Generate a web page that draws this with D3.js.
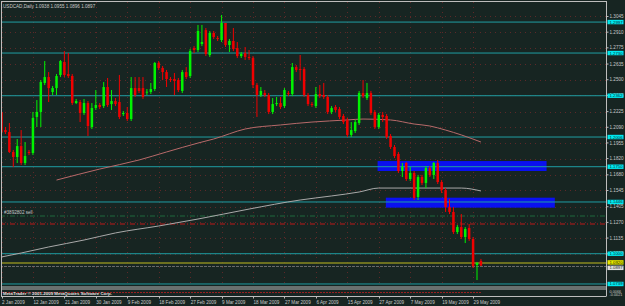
<!DOCTYPE html>
<html>
<head>
<meta charset="utf-8">
<script src="https://cdn.jsdelivr.net/npm/d3@7"></script>
<style>
  html, body { margin: 0; padding: 0; background: #172522; }
  svg { display: block; font-family: "Liberation Sans", Arial, sans-serif; }
</style>
</head>
<body>
<div id="chart"></div>
<script>
// USDCAD daily candles, one entry per bar
const openP = [
  1.2222, 1.2066, 1.2049, 1.1877, 1.1834, 1.1928, 1.1782, 1.1877, 1.1868, 1.2179,
  1.2222, 1.2472, 1.2523, 1.2394, 1.2428, 1.2541, 1.2653, 1.2549, 1.2532, 1.2299,
  1.2308, 1.2213, 1.2299, 1.2092, 1.2256, 1.2282, 1.2273, 1.2437, 1.2290, 1.2316,
  1.2308, 1.2204, 1.2213, 1.2161, 1.2428, 1.2428, 1.2428, 1.2394, 1.2394, 1.2420,
  1.2644, 1.2601, 1.2566, 1.2506, 1.2506, 1.2497, 1.2403, 1.2566, 1.2532, 1.2773,
  1.2756, 1.2808, 1.2928, 1.2713, 1.2903, 1.2859, 1.2842, 1.2989, 1.2799, 1.2834,
  1.2773, 1.2704, 1.2730, 1.2696, 1.2687, 1.2454, 1.2368, 1.2385, 1.2368, 1.2222,
  1.2290, 1.2299, 1.2273, 1.2385, 1.2377, 1.2609, 1.2592, 1.2592, 1.2368, 1.2290,
  1.2273, 1.2377, 1.2368, 1.2351, 1.2222, 1.2265, 1.2247, 1.2187, 1.2153, 1.2024,
  1.2058, 1.2127, 1.2385, 1.2342, 1.2385, 1.2222, 1.2092, 1.2196, 1.2187, 1.2015,
  1.1920, 1.1860, 1.1713, 1.1782, 1.1644, 1.1696, 1.1489, 1.1661, 1.1610, 1.1739,
  1.1679, 1.1782, 1.1618, 1.1549, 1.1403, 1.1360, 1.1187, 1.1230, 1.1144, 1.1222,
  1.1127, 1.0903, 1.0938
];
const highP = [
  1.2256, 1.2092, 1.2127, 1.1894, 1.1989, 1.2066, 1.1963, 1.1894, 1.2222, 1.2325,
  1.2497, 1.2661, 1.2566, 1.2446, 1.2549, 1.2670, 1.2747, 1.2730, 1.2549, 1.2334,
  1.2325, 1.2334, 1.2316, 1.2299, 1.2411, 1.2299, 1.2480, 1.2515, 1.2411, 1.2342,
  1.2541, 1.2230, 1.2265, 1.2523, 1.2523, 1.2523, 1.2523, 1.2420, 1.2472, 1.2653,
  1.2661, 1.2618, 1.2584, 1.2523, 1.2558, 1.2515, 1.2584, 1.2609, 1.2765, 1.2790,
  1.2972, 1.2972, 1.2946, 1.2920, 1.2920, 1.2877, 1.3058, 1.2989, 1.2851, 1.2946,
  1.2825, 1.2739, 1.2782, 1.2756, 1.2704, 1.2472, 1.2437, 1.2411, 1.2385, 1.2342,
  1.2351, 1.2351, 1.2428, 1.2403, 1.2644, 1.2627, 1.2713, 1.2609, 1.2385, 1.2308,
  1.2437, 1.2454, 1.2472, 1.2368, 1.2273, 1.2282, 1.2265, 1.2204, 1.2170, 1.2135,
  1.2153, 1.2403, 1.2497, 1.2472, 1.2403, 1.2239, 1.2213, 1.2222, 1.2204, 1.2032,
  1.1937, 1.1877, 1.1782, 1.1791, 1.1747, 1.1713, 1.1679, 1.1679, 1.1756, 1.1756,
  1.1791, 1.1808, 1.1635, 1.1566, 1.1472, 1.1403, 1.1247, 1.1342, 1.1230, 1.1256,
  1.1144, 1.0929, 1.0955
];
const lowP = [
  1.2041, 1.2032, 1.1868, 1.1747, 1.1782, 1.1765, 1.1765, 1.1851, 1.1851, 1.2092,
  1.2092, 1.2454, 1.2308, 1.2368, 1.2368, 1.2523, 1.2523, 1.2515, 1.2282, 1.2290,
  1.2135, 1.2196, 1.2015, 1.2075, 1.2239, 1.2247, 1.2256, 1.2265, 1.2239, 1.2273,
  1.2161, 1.2187, 1.2144, 1.2144, 1.2351, 1.2385, 1.2334, 1.2368, 1.2377, 1.2403,
  1.2584, 1.2497, 1.2437, 1.2480, 1.2368, 1.2394, 1.2385, 1.2506, 1.2515, 1.2730,
  1.2739, 1.2790, 1.2704, 1.2696, 1.2851, 1.2834, 1.2825, 1.2782, 1.2739, 1.2747,
  1.2687, 1.2687, 1.2670, 1.2670, 1.2428, 1.2179, 1.2351, 1.2351, 1.2204, 1.2204,
  1.2273, 1.2247, 1.2256, 1.2359, 1.2359, 1.2566, 1.2497, 1.2351, 1.2273, 1.2265,
  1.2256, 1.2342, 1.2334, 1.2204, 1.2204, 1.2222, 1.2161, 1.2118, 1.2006, 1.2006,
  1.2041, 1.2110, 1.2342, 1.2325, 1.2196, 1.2075, 1.2075, 1.2135, 1.1989, 1.1903,
  1.1825, 1.1696, 1.1661, 1.1627, 1.1627, 1.1463, 1.1463, 1.1592, 1.1566, 1.1661,
  1.1644, 1.1601, 1.1523, 1.1360, 1.1342, 1.1170, 1.1170, 1.1127, 1.1092, 1.1110,
  1.0877, 1.0773, 1.0896
];
const closeP = [
  1.2049, 1.2049, 1.1877, 1.1834, 1.1928, 1.1782, 1.1842, 1.1868, 1.2170, 1.2222,
  1.2480, 1.2523, 1.2428, 1.2428, 1.2532, 1.2661, 1.2541, 1.2532, 1.2299, 1.2316,
  1.2213, 1.2299, 1.2101, 1.2256, 1.2282, 1.2265, 1.2437, 1.2282, 1.2316, 1.2290,
  1.2179, 1.2213, 1.2161, 1.2428, 1.2368, 1.2403, 1.2351, 1.2396, 1.2420, 1.2644,
  1.2601, 1.2566, 1.2506, 1.2497, 1.2489, 1.2411, 1.2566, 1.2523, 1.2747, 1.2756,
  1.2920, 1.2825, 1.2722, 1.2903, 1.2868, 1.2851, 1.2989, 1.2799, 1.2834, 1.2765,
  1.2704, 1.2722, 1.2696, 1.2687, 1.2454, 1.2368, 1.2403, 1.2368, 1.2222, 1.2290,
  1.2299, 1.2265, 1.2411, 1.2377, 1.2609, 1.2584, 1.2584, 1.2368, 1.2290, 1.2282,
  1.2377, 1.2359, 1.2351, 1.2222, 1.2256, 1.2239, 1.2179, 1.2135, 1.2024, 1.2066,
  1.2135, 1.2385, 1.2359, 1.2385, 1.2213, 1.2092, 1.2196, 1.2179, 1.2006, 1.1920,
  1.1842, 1.1713, 1.1747, 1.1644, 1.1696, 1.1480, 1.1661, 1.1610, 1.1739, 1.1679,
  1.1782, 1.1618, 1.1549, 1.1403, 1.1360, 1.1187, 1.1230, 1.1144, 1.1213, 1.1127,
  1.0894, 1.0920, 1.0897
];

// date labels every 8 bars
const dateLabels = ["2 Jan 2009", "12 Jan 2009", "21 Jan 2009", "30 Jan 2009", "9 Feb 2009",
  "18 Feb 2009", "27 Feb 2009", "9 Mar 2009", "18 Mar 2009", "27 Mar 2009", "6 Apr 2009",
  "15 Apr 2009", "27 Apr 2009", "7 May 2009", "19 May 2009", "29 May 2009"];
const labelStep = 8;

// right price scale
const priceTicks = [1.3045, 1.2910, 1.2775, 1.2635, 1.2500, 1.2365, 1.2225, 1.2090,
  1.1955, 1.1820, 1.1680, 1.1545, 1.1405, 1.1270, 1.1135, 1.0999];

// horizontal support / resistance lines
const levels = [1.2997, 1.2730, 1.2362, 1.2006, 1.1750, 1.1446, 1.1000, 1.0739];

// moving averages, sampled by bar
const maRedBars = [14, 25, 35, 42, 50, 54, 62, 71, 79, 88, 92, 99, 105, 109, 113, 117, 122];
const maRedVals = [1.1635, 1.1730, 1.1808, 1.1877, 1.1954, 1.1989, 1.2075, 1.2110, 1.2135,
  1.2153, 1.2161, 1.2153, 1.2118, 1.2101, 1.2066, 1.2024, 1.1963];
const maGrayBars = [0, 5, 12, 21, 29, 40, 50, 63, 76, 84, 91, 96, 104, 117, 122];
const maGrayVals = [1.0972, 1.1006, 1.1058, 1.1118, 1.1179, 1.1239, 1.1299, 1.1385, 1.1463,
  1.1498, 1.1532, 1.1566, 1.1566, 1.1566, 1.1541];

// blue rectangles: bar from, bar to, price top, price bottom
const zoneFrom = [95.7, 97.8];
const zoneTo = [138.7, 140.8];
const zoneTop = [1.1799, 1.1483];
const zoneBottom = [1.1713, 1.1397];

// open order
const orderPrice = 1.1325;
const stopPrice = 1.1256;
const orderLabel = "#3892802 sell";
const yellowLine = 1.0920;
const bidPrice = 1.0890;
const bidLabel = "1.0897";
const title = "USDCAD,Daily  1.0938 1.0955 1.0896 1.0897";

const W = 625, H = 306;
const axisX = 606, mainTop = 2, mainBottom = 287, subBottom = 296.5;

const svg = d3.select("#chart").append("svg")
  .attr("width", W)
  .attr("height", H);

svg.append("rect").attr("width", W).attr("height", H).attr("fill", "#172522");

const x = d3.scaleLinear().domain([0, 154]).range([1.5, 606.7]);
const y = d3.scaleLinear().domain([1.0713, 1.3170]).range([mainBottom, mainTop]);

const main = svg.append("g");
main.append("clipPath").attr("id", "clipMain")
  .append("rect").attr("x", 1.5).attr("y", mainTop).attr("width", axisX - 1.5).attr("height", mainBottom - mainTop);
const plot = main.append("g").attr("clip-path", "url(#clipMain)");

// dotted grid
const gridColor = "#5e2828";
plot.selectAll("line.hgrid")
  .data(priceTicks)
  .enter().append("line")
  .attr("x1", 0).attr("x2", axisX)
  .attr("y1", d => Math.round(y(d)) + 0.5).attr("y2", d => Math.round(y(d)) + 0.5)
  .attr("stroke", gridColor).attr("stroke-width", 1).attr("stroke-dasharray", "1,4");
plot.selectAll("line.vgrid")
  .data(dateLabels)
  .enter().append("line")
  .attr("x1", (d, i) => Math.round(x(i * labelStep)) + 0.5)
  .attr("x2", (d, i) => Math.round(x(i * labelStep)) + 0.5)
  .attr("y1", mainTop).attr("y2", mainBottom)
  .attr("stroke", gridColor).attr("stroke-width", 1).attr("stroke-dasharray", "1,4");

// blue zones
plot.selectAll("rect.zone")
  .data(zoneFrom)
  .enter().append("rect")
  .attr("x", (d) => x(d))
  .attr("width", (d, i) => x(zoneTo[i]) - x(d))
  .attr("y", (d, i) => y(zoneTop[i]))
  .attr("height", (d, i) => y(zoneBottom[i]) - y(zoneTop[i]))
  .attr("fill", "#0a10f0");

// horizontal lines
plot.selectAll("line.level")
  .data(levels)
  .enter().append("line")
  .attr("x1", 0).attr("x2", axisX)
  .attr("y1", d => y(d)).attr("y2", d => y(d))
  .attr("stroke", "#1f9ea3").attr("stroke-width", 1);

plot.append("line")
  .attr("x1", 0).attr("x2", axisX)
  .attr("y1", y(yellowLine)).attr("y2", y(yellowLine))
  .attr("stroke", "#8a8a20").attr("stroke-width", 1.4);
plot.append("line")
  .attr("x1", 0).attr("x2", axisX)
  .attr("y1", y(bidPrice)).attr("y2", y(bidPrice))
  .attr("stroke", "#6a6a6a").attr("stroke-width", 1).attr("stroke-dasharray", "3,1");

// order lines
plot.append("line")
  .attr("x1", 0).attr("x2", axisX)
  .attr("y1", y(orderPrice)).attr("y2", y(orderPrice))
  .attr("stroke", "#1f6a3c").attr("stroke-width", 1).attr("stroke-dasharray", "5,2,1,2");
plot.append("line")
  .attr("x1", 0).attr("x2", axisX)
  .attr("y1", y(stopPrice)).attr("y2", y(stopPrice))
  .attr("stroke", "#c01818").attr("stroke-width", 1).attr("stroke-dasharray", "5,2,1,2");
plot.append("text")
  .attr("x", 4).attr("y", y(orderPrice) - 2)
  .attr("fill", "#c8c8c8").attr("font-size", 4.6)
  .text(orderLabel);

// moving averages
const lineGen = d3.line().curve(d3.curveMonotoneX);
plot.append("path")
  .attr("d", lineGen(maGrayBars.map((b, i) => [x(b), y(maGrayVals[i])])))
  .attr("fill", "none").attr("stroke", "#a9a9a9").attr("stroke-width", 1);
plot.append("path")
  .attr("d", lineGen(maRedBars.map((b, i) => [x(b), y(maRedVals[i])])))
  .attr("fill", "none").attr("stroke", "#b86a6a").attr("stroke-width", 1);

// candles
const bars = d3.range(openP.length);
const bull = "#00f400", bear = "#f00000";
const candles = plot.selectAll("g.candle")
  .data(bars)
  .enter().append("g");
candles.append("line")
  .attr("x1", i => x(i)).attr("x2", i => x(i))
  .attr("y1", i => y(highP[i])).attr("y2", i => y(lowP[i]))
  .attr("stroke", i => closeP[i] >= openP[i] ? bull : bear)
  .attr("stroke-width", 1);
candles.append("rect")
  .attr("x", i => x(i) - 1.25)
  .attr("width", 2.5)
  .attr("y", i => y(Math.max(openP[i], closeP[i])))
  .attr("height", i => Math.max(0.8, Math.abs(y(openP[i]) - y(closeP[i]))))
  .attr("fill", i => closeP[i] >= openP[i] ? bull : bear);

// frame and separators
const frameColor = "#bdbdbd";
svg.append("line").attr("x1", 1.5).attr("x2", 1.5).attr("y1", 1).attr("y2", subBottom)
  .attr("stroke", frameColor);
svg.append("line").attr("x1", 1).attr("x2", axisX).attr("y1", 1.5).attr("y2", 1.5)
  .attr("stroke", frameColor);
svg.append("line").attr("x1", axisX + 0.5).attr("x2", axisX + 0.5).attr("y1", 1).attr("y2", subBottom)
  .attr("stroke", frameColor);
svg.append("line").attr("x1", 1).attr("x2", axisX).attr("y1", mainBottom).attr("y2", mainBottom)
  .attr("stroke", frameColor);
svg.append("line").attr("x1", 1).attr("x2", axisX).attr("y1", mainBottom + 2).attr("y2", mainBottom + 2)
  .attr("stroke", frameColor);
svg.append("line").attr("x1", 1).attr("x2", axisX).attr("y1", subBottom).attr("y2", subBottom)
  .attr("stroke", frameColor);

// sub window
svg.append("line")
  .attr("x1", 2).attr("x2", x(openP.length - 1))
  .attr("y1", 292.5).attr("y2", 292.5)
  .attr("stroke", "#9a2020").attr("stroke-dasharray", "2,1");
svg.append("text")
  .attr("x", 3).attr("y", 294.6)
  .attr("fill", "#e0e0e0").attr("font-size", 4.4).attr("font-weight", "bold")
  .text("MetaTrader © 2001-2009 MetaQuotes Software Corp.");

// right price axis
const yAxis = svg.append("g");
yAxis.selectAll("line")
  .data(priceTicks)
  .enter().append("line")
  .attr("x1", axisX).attr("x2", axisX + 2.5)
  .attr("y1", d => y(d)).attr("y2", d => y(d))
  .attr("stroke", frameColor);
yAxis.selectAll("text")
  .data(priceTicks)
  .enter().append("text")
  .attr("x", axisX + 3.5).attr("y", d => y(d) + 1.6)
  .attr("fill", "#c8c8c8").attr("font-size", 4.6)
  .text(d => d.toFixed(4));

function priceTag(py, label, bg, fg) {
  const g = svg.append("g");
  g.append("rect")
    .attr("x", axisX + 1.5).attr("y", py - 2.2)
    .attr("width", 16).attr("height", 4.4)
    .attr("fill", bg);
  g.append("text")
    .attr("x", axisX + 3.5).attr("y", py + 1.5)
    .attr("fill", fg).attr("font-size", 4.3)
    .text(label);
}
levels.forEach(p => priceTag(y(p), p.toFixed(4), "#00e8f0", "#0a2a2a"));
priceTag(y(yellowLine) - 0.6, yellowLine.toFixed(4), "#e8e800", "#202000");
priceTag(y(bidPrice) + 1.4, bidLabel, "#e0e0e0", "#202020");

// sub window scale
svg.append("text").attr("x", axisX + 3.5).attr("y", 292.6).attr("fill", "#c8c8c8")
  .attr("font-size", 3.8).text("0.0066");
svg.append("text").attr("x", axisX + 3.5).attr("y", 296.4).attr("fill", "#c8c8c8")
  .attr("font-size", 3.8).text("-0.0021");

// date axis
const xAxis = svg.append("g");
xAxis.selectAll("line")
  .data(dateLabels)
  .enter().append("line")
  .attr("x1", (d, i) => Math.round(x(i * labelStep)) + 0.5)
  .attr("x2", (d, i) => Math.round(x(i * labelStep)) + 0.5)
  .attr("y1", subBottom).attr("y2", subBottom + 2)
  .attr("stroke", frameColor);
xAxis.selectAll("text")
  .data(dateLabels)
  .enter().append("text")
  .attr("x", (d, i) => x(i * labelStep) + 0.5)
  .attr("y", 303.5)
  .attr("fill", "#c8c8c8").attr("font-size", 4.6)
  .text(d => d);

// title
svg.append("text")
  .attr("x", 3).attr("y", 8)
  .attr("fill", "#c8c8c8").attr("font-size", 4.6)
  .text(title);
</script>
</body>
</html>
